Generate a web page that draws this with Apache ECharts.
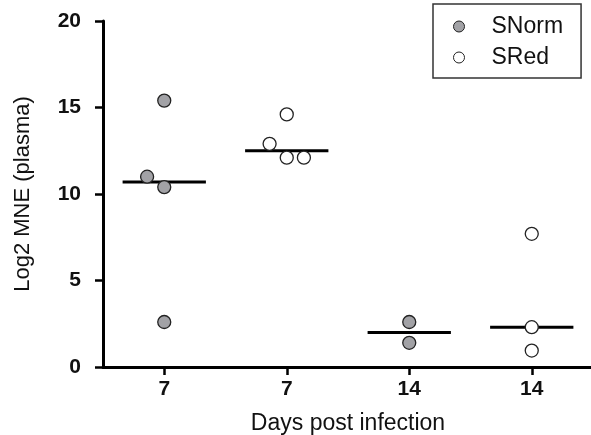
<!DOCTYPE html>
<html>
<head>
<meta charset="utf-8">
<script src="https://cdn.jsdelivr.net/npm/echarts@6/dist/echarts.min.js"></script>
<style>html,body{margin:0;padding:0;background:#fff}#chart{width:591px;height:435px}</style>
</head>
<body>
<div id="chart"></div>
<script>
// Category tick labels (group positions 1..4)
var categories = ['7', '7', '14', '14'];
var groupPositions = [1, 2, 3, 4];

// SNorm points: group, small horizontal jitter, value
var snormGroup = [1, 1, 1, 1, 3, 3];
var snormJitter = [0, -0.14, 0, 0, 0, 0];
var snormValues = [15.4, 11.0, 10.4, 2.6, 2.6, 1.4];

// SRed points
var sredGroup = [2, 2, 2, 2, 4, 4, 4];
var sredJitter = [0, -0.14, 0, 0.14, 0, 0, 0];
var sredValues = [14.6, 12.9, 12.1, 12.1, 7.7, 2.3, 0.95];

// Median lines per group
var medianValues = [10.7, 12.5, 2.0, 2.3];

var yTicks = [0, 5, 10, 15, 20];

function pts(g, j, v) {
  return v.map(function (val, i) { return [g[i] + j[i], val]; });
}

var chart = echarts.init(document.getElementById('chart'));
var font = 'Liberation Sans, Arial, sans-serif';

chart.setOption({
  backgroundColor: '#fff',
  animation: false,
  textStyle: { fontFamily: font },
  grid: { left: 103, right: -2, top: 21, bottom: 68, containLabel: false, outerBoundsMode: 'none' },
  legend: {
    orient: 'vertical',
    left: 433, top: 4,
    padding: [11, 18, 9, 20],
    itemGap: 8,
    itemWidth: 11, itemHeight: 11,
    borderColor: '#333', borderWidth: 1.5, borderRadius: 0,
    textStyle: { fontSize: 23, color: '#111', fontFamily: font, padding: [0, 0, 0, 22] },
    data: [
      { name: 'SNorm', icon: 'circle', itemStyle: { color: '#a2a2a6', borderColor: '#222', borderWidth: 1 } },
      { name: 'SRed', icon: 'circle', itemStyle: { color: '#fff', borderColor: '#222', borderWidth: 1 } }
    ]
  },
  xAxis: {
    type: 'value', min: 0.5, max: 4.5,
    name: 'Days post infection', nameLocation: 'middle', nameGap: 45,
    nameTextStyle: { fontSize: 23, color: '#111', fontFamily: font },
    axisLine: { show: true, onZero: false, lineStyle: { color: '#000', width: 3 } },
    axisTick: { show: true, customValues: groupPositions, length: 8, lineStyle: { color: '#000', width: 2.5 } },
    axisLabel: {
      customValues: groupPositions,
      formatter: function (v) { return categories[Math.round(v) - 1]; },
      fontSize: 21, fontWeight: 'bold', color: '#111', margin: 12
    },
    splitLine: { show: false }
  },
  yAxis: {
    type: 'value', min: 0, max: 20, interval: 5,
    name: 'Log2 MNE (plasma)', nameLocation: 'middle', nameGap: 69,
    nameTextStyle: { fontSize: 22, color: '#111', fontFamily: font },
    axisLine: { show: true, lineStyle: { color: '#000', width: 3 } },
    axisTick: { show: true, length: 8, lineStyle: { color: '#000', width: 2.5 } },
    axisLabel: { fontSize: 21, fontWeight: 'bold', color: '#111', margin: 22,
      formatter: function (v) { return yTicks.indexOf(v) >= 0 ? String(v) : ''; } },
    splitLine: { show: false }
  },
  series: [
    {
      name: 'Median', type: 'custom', z: 1,
      data: groupPositions.map(function (g, i) { return [g, medianValues[i]]; }),
      renderItem: function (params, api) {
        var c = api.coord([api.value(0), api.value(1)]);
        var half = api.size([0.34, 0])[0];
        return { type: 'line', shape: { x1: c[0] - half, y1: c[1], x2: c[0] + half, y2: c[1] },
          style: { stroke: '#000', lineWidth: 3 } };
      }
    },
    {
      name: 'SNorm', type: 'scatter', z: 3, symbol: 'circle', symbolSize: 13,
      itemStyle: { color: '#a2a2a6', borderColor: '#222', borderWidth: 1.3, opacity: 1 },
      data: pts(snormGroup, snormJitter, snormValues)
    },
    {
      name: 'SRed', type: 'scatter', z: 3, symbol: 'circle', symbolSize: 13,
      itemStyle: { color: '#fff', borderColor: '#222', borderWidth: 1.3, opacity: 1 },
      data: pts(sredGroup, sredJitter, sredValues)
    }
  ]
});
</script>
</body>
</html>
